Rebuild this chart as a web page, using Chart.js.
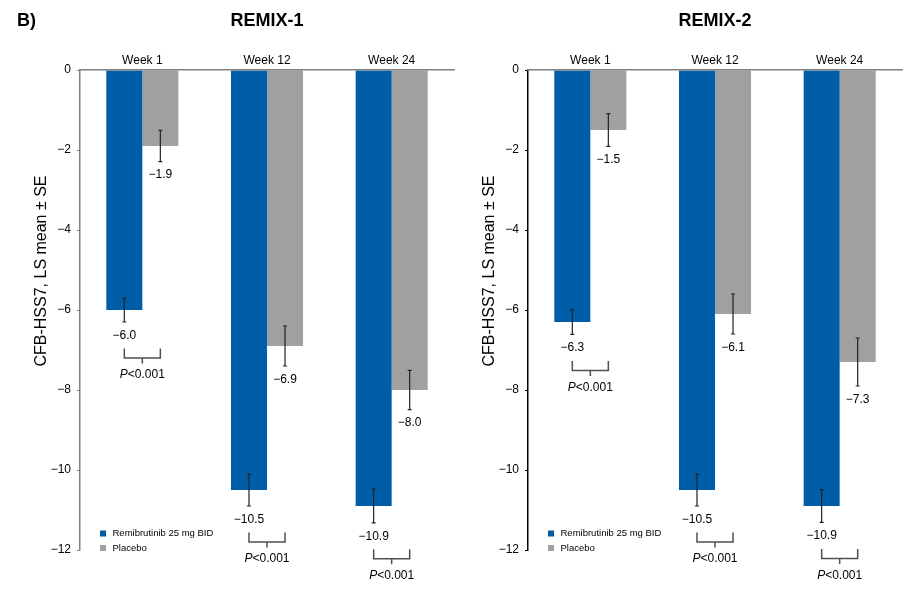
<!DOCTYPE html>
<html>
<head>
<meta charset="utf-8">
<script src="https://cdn.jsdelivr.net/npm/chart.js@4.4.1/dist/chart.umd.min.js"></script>
<style>
  body { margin: 0; background: #fff; }
  #wrap { position: relative; width: 923px; height: 594px; overflow: hidden; }
  canvas { position: absolute; top: 0; }
  #c1 { left: 0; }
  #c2 { left: 448px; }
</style>
</head>
<body>
<div id="wrap">
  <canvas id="c1" width="460" height="594"></canvas>
  <canvas id="c2" width="475" height="594"></canvas>
</div>
<script>
// values
const categories = ['Week 1', 'Week 12', 'Week 24'];
const seriesNames = ['Remibrutinib 25 mg BID', 'Placebo'];

const remix1Remi = [-6.0, -10.5, -10.9];
const remix1RemiSE = [0.30, 0.40, 0.42];
const remix1Pbo = [-1.9, -6.9, -8.0];
const remix1PboSE = [0.39, 0.50, 0.49];

const remix2Remi = [-6.3, -10.5, -10.9];
const remix2RemiSE = [0.31, 0.40, 0.41];
const remix2Pbo = [-1.5, -6.1, -7.3];
const remix2PboSE = [0.41, 0.50, 0.60];

const pValues = ['<0.001', '<0.001', '<0.001'];
const yMin = -12, yMax = 0, yStep = 2;

const BLUE = '#005ea8';
const GREY = '#a09fa2';
const FONT = '"Liberation Sans", Arial, sans-serif';

Chart.defaults.font.family = FONT;
Chart.defaults.color = '#000';

function fmt(v) {
  return v < 0 ? '\u2212' + Math.abs(v).toFixed(1) : v.toFixed(1);
}

// error bars, value labels, p brackets, legend and titles
const extrasPlugin = {
  id: 'extras',
  afterDatasetsDraw(chart, args, opts) {
    const ctx = chart.ctx;
    const y = chart.scales.y;
    const labelPos = [];
    ctx.save();
    chart.data.datasets.forEach((ds, i) => {
      labelPos[i] = [];
      chart.getDatasetMeta(i).data.forEach((bar, j) => {
        const v = ds.data[j], se = ds.se[j];
        const y1 = y.getPixelForValue(v + se);
        const y2 = y.getPixelForValue(v - se);
        ctx.strokeStyle = '#222';
        ctx.lineWidth = 1.2;
        ctx.beginPath();
        ctx.moveTo(bar.x, y1); ctx.lineTo(bar.x, y2);
        ctx.moveTo(bar.x - 2, y1); ctx.lineTo(bar.x + 2, y1);
        ctx.moveTo(bar.x - 2, y2); ctx.lineTo(bar.x + 2, y2);
        ctx.stroke();
        const ly = y2 + 13.5;
        ctx.fillStyle = '#000';
        ctx.font = '12px ' + FONT;
        ctx.textAlign = 'center';
        ctx.textBaseline = 'middle';
        ctx.fillText(fmt(v), bar.x, ly);
        labelPos[i][j] = { x: bar.x, y: ly };
      });
    });

    // p-value brackets below the active-arm label
    opts.pValues.forEach((p, j) => {
      const a = labelPos[0][j], b = labelPos[1][j];
      const top = a.y + 13, bot = a.y + 22.5, mid = (a.x + b.x) / 2;
      ctx.strokeStyle = '#505050';
      ctx.lineWidth = 1.5;
      ctx.beginPath();
      ctx.moveTo(a.x, top); ctx.lineTo(a.x, bot); ctx.lineTo(b.x, bot); ctx.lineTo(b.x, top);
      ctx.moveTo(mid, bot); ctx.lineTo(mid, bot + 5.5);
      ctx.stroke();
      const ty = a.y + 39.5;
      ctx.font = 'italic 12px ' + FONT;
      const wP = ctx.measureText('P').width;
      ctx.font = '12px ' + FONT;
      const wR = ctx.measureText(p).width;
      const x0 = mid - (wP + wR) / 2;
      ctx.textAlign = 'left';
      ctx.fillStyle = '#000';
      ctx.font = 'italic 12px ' + FONT;
      ctx.fillText('P', x0, ty);
      ctx.font = '12px ' + FONT;
      ctx.fillText(p, x0 + wP, ty);
    });

    // legend inside the plot, lower left
    const area = chart.chartArea;
    ctx.font = '9.5px ' + FONT;
    ctx.textAlign = 'left';
    ctx.textBaseline = 'middle';
    chart.data.datasets.forEach((ds, i) => {
      const ly = 533.5 + i * 14.5;
      ctx.fillStyle = ds.backgroundColor;
      ctx.fillRect(area.left + 20, ly - 3, 6, 6);
      ctx.fillStyle = '#000';
      ctx.fillText(ds.label, area.left + 32.5, ly);
    });
    ctx.restore();
  },
  afterDraw(chart, args, opts) {
    const ctx = chart.ctx;
    const area = chart.chartArea;
    ctx.save();
    ctx.fillStyle = '#000';
    ctx.textBaseline = 'middle';
    ctx.font = 'bold 18px ' + FONT;
    ctx.textAlign = 'center';
    ctx.fillText(opts.title, (area.left + area.right) / 2, 21);
    if (opts.panel) {
      ctx.textAlign = 'left';
      ctx.fillText(opts.panel, 17, 21);
    }
    ctx.translate(41.5, 271);
    ctx.rotate(-Math.PI / 2);
    ctx.font = '16px ' + FONT;
    ctx.textAlign = 'center';
    ctx.fillText('CFB-HSS7, LS mean \u00b1 SE', 0, 0);
    ctx.restore();
  }
};

function makeChart(id, remi, remiSE, pbo, pboSE, title, panel, axisColor, rightPad) {
  return new Chart(document.getElementById(id), {
    type: 'bar',
    data: {
      labels: categories,
      datasets: [
        { label: seriesNames[0], data: remi, se: remiSE, backgroundColor: BLUE },
        { label: seriesNames[1], data: pbo, se: pboSE, backgroundColor: GREY }
      ]
    },
    options: {
      responsive: false,
      animation: false,
      events: [],
      layout: { padding: { left: 0, top: 45, right: rightPad, bottom: 44 } },
      datasets: { bar: { categoryPercentage: 0.578, barPercentage: 1 } },
      scales: {
        x: {
          position: 'top',
          grid: { display: false },
          border: { display: true, color: '#808080', width: 1.5, z: 1 },
          ticks: { font: { size: 12 }, padding: -6, color: '#000' },
          afterFit(s) { s.height = 25; }
        },
        y: {
          min: yMin,
          max: yMax,
          grid: { display: true, drawOnChartArea: false, drawTicks: true, tickLength: 3, color: axisColor },
          border: { display: true, color: axisColor, width: 1.5 },
          ticks: {
            stepSize: yStep,
            padding: 6,
            font: { size: 12 },
            color: '#000',
            callback: v => v === 0 ? '0' : '\u2212' + Math.abs(v)
          },
          afterFit(s) { s.width = 80; }
        }
      },
      plugins: {
        legend: { display: false },
        tooltip: { enabled: false },
        extras: { title: title, panel: panel, pValues: pValues }
      }
    },
    plugins: [extrasPlugin]
  });
}

makeChart('c1', remix1Remi, remix1RemiSE, remix1Pbo, remix1PboSE, 'REMIX-1', 'B)', '#808080', 6);
makeChart('c2', remix2Remi, remix2RemiSE, remix2Pbo, remix2PboSE, 'REMIX-2', null, '#000000', 21);
</script>
</body>
</html>
